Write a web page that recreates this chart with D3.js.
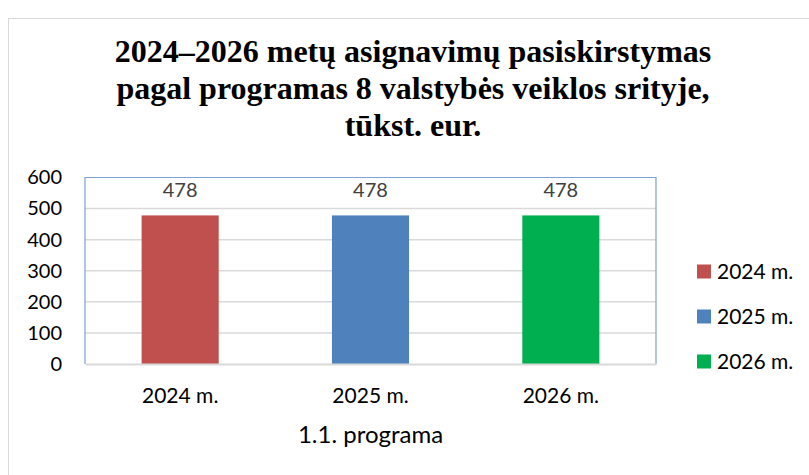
<!DOCTYPE html>
<html>
<head>
<meta charset="utf-8">
<script src="https://cdn.jsdelivr.net/npm/d3@7"></script>
<style>
    body { margin: 0; background: #fff; }
    svg { display: block; }
</style>
</head>
<body>
<svg id="chartSvg" width="809" height="475"></svg>
<script>
var titleLines = ['2024–2026 metų asignavimų pasiskirstymas',
    'pagal programas 8 valstybės veiklos srityje,',
    'tūkst. eur.']
var categories = ['2024 m.', '2025 m.', '2026 m.']
var values = [478, 478, 478]
var colors = ['#C0504D', '#4F81BD', '#00B050']
var yTicks = [0, 100, 200, 300, 400, 500, 600]
var axisTitle = '1.1. programa'

var svg = d3.select('#chartSvg')
var font = 'Lato, "Open Sans", sans-serif'

// outer chart frame
svg.append('rect')
    .attr('x', 8.5).attr('y', 18.5)
    .attr('width', 900).attr('height', 600)
    .attr('fill', '#fff')
    .attr('stroke', '#D9D9D9')

svg.append('g').selectAll('text')
    .data(titleLines)
    .enter().append('text')
    .attr('x', 413)
    .attr('y', (d, i) => 62 + i * 37)
    .attr('text-anchor', 'middle')
    .style('font-family', '"Liberation Serif", "Times New Roman", serif')
    .style('font-weight', 'bold')
    .style('font-size', '32px')
    .text(d => d)

var plotLeft = 85, plotTop = 177.5, plotRight = 656, plotBottom = 364

var x = d3.scaleBand()
    .domain(categories)
    .range([plotLeft, plotRight])
    .paddingInner(0.595)
    .paddingOuter(0.2975)

var y = d3.scaleLinear()
    .domain([0, 600])
    .range([plotBottom, plotTop])

// gridlines
svg.append('g').selectAll('line')
    .data(yTicks.slice(1, -1))
    .enter().append('line')
    .attr('x1', plotLeft).attr('x2', plotRight)
    .attr('y1', d => y(d)).attr('y2', d => y(d))
    .attr('stroke', '#D9D9D9')
    .attr('stroke-width', 1.5)

var yAxis = svg.append('g')
    .attr('transform', 'translate(' + plotLeft + ',0)')
    .call(d3.axisLeft(y).tickValues(yTicks).tickSize(0).tickPadding(23))
yAxis.select('.domain').remove()
yAxis.selectAll('text')
    .style('font-family', font)
    .style('font-size', '20px')
    .attr('fill', '#000')

svg.append('g').selectAll('rect')
    .data(values)
    .enter().append('rect')
    .attr('x', (d, i) => x(categories[i]))
    .attr('y', d => y(d))
    .attr('width', x.bandwidth())
    .attr('height', d => plotBottom - y(d))
    .attr('fill', (d, i) => colors[i])

svg.append('g').selectAll('text')
    .data(values)
    .enter().append('text')
    .attr('x', (d, i) => x(categories[i]) + x.bandwidth() / 2)
    .attr('y', d => y(d) - 18)
    .attr('text-anchor', 'middle')
    .style('font-family', font)
    .style('font-size', '20px')
    .attr('fill', '#404040')
    .text(d => d)

// plot frame: blue on left, top, right; grey axis line at the bottom
svg.append('path')
    .attr('d', 'M' + plotLeft + ',' + plotBottom + 'V' + plotTop + 'H' + plotRight + 'V' + plotBottom)
    .attr('fill', 'none')
    .attr('stroke', '#7FA0D2')
    .attr('stroke-width', 1.2)

var xAxis = svg.append('g')
    .attr('transform', 'translate(0,' + plotBottom + ')')
    .call(d3.axisBottom(x).tickSize(0).tickPadding(24))
xAxis.select('.domain')
    .attr('stroke', '#D9D9D9')
    .attr('stroke-width', 2)
xAxis.selectAll('text')
    .style('font-family', font)
    .style('font-size', '21px')
    .attr('fill', '#000')

svg.append('text')
    .attr('x', (plotLeft + plotRight) / 2)
    .attr('y', 443)
    .attr('text-anchor', 'middle')
    .style('font-family', font)
    .style('font-size', '24px')
    .text(axisTitle)

var legend = svg.append('g').selectAll('g')
    .data(categories)
    .enter().append('g')
    .attr('transform', (d, i) => 'translate(697,' + (264.5 + i * 45) + ')')
legend.append('rect')
    .attr('width', 14).attr('height', 14)
    .attr('fill', (d, i) => colors[i])
legend.append('text')
    .attr('x', 20).attr('y', 14)
    .style('font-family', font)
    .style('font-size', '21px')
    .text(d => d)
</script>
</body>
</html>
